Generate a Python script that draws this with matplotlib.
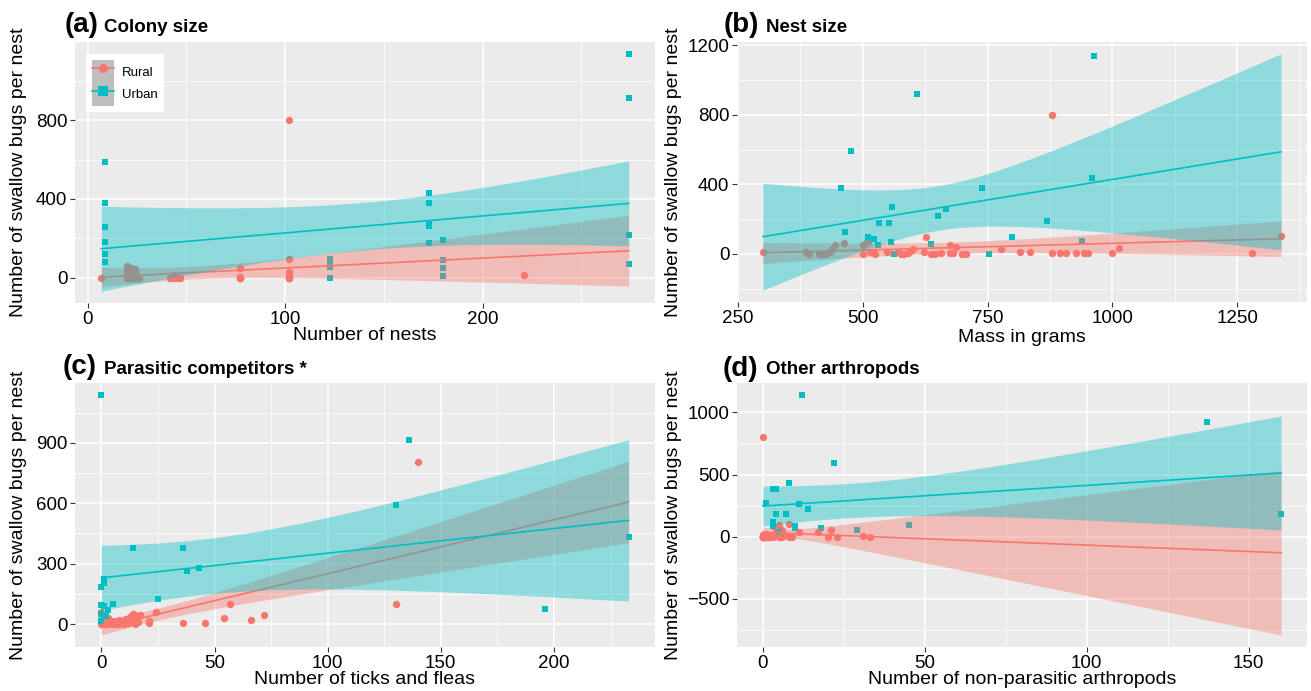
import numpy as np
import matplotlib
matplotlib.use("Agg")
import matplotlib.pyplot as plt
from matplotlib.ticker import MultipleLocator
from matplotlib.patches import Rectangle
from matplotlib.lines import Line2D
from matplotlib.legend_handler import HandlerTuple

plt.rcParams['font.family'] = ['Liberation Sans', 'DejaVu Sans']

RURAL_COLOR = '#F8766D'
URBAN_COLOR = '#00BFC4'
BG = '#EBEBEB'

# ---------------- data (overlapping points stacked) ----------------
# (a) Colony size
a_rural_x = [7, 20, 20, 20, 20, 22, 22, 22, 22, 24, 24, 24, 26, 42, 44, 44, 47,
             77, 77, 77, 102, 102, 102, 102, 102, 221,
             20, 20, 21, 21, 22, 22, 23, 23, 24, 26, 42, 44, 44, 46, 47,
             77, 77, 77, 77, 102, 102, 102, 102, 102]
a_rural_y = [0, 60, 35, 15, 0, 50, 25, 5, 0, 45, 30, 10, 0, 0, 0, 15, 0,
             50, 5, 0, 800, 96, 27, 10, 0, 15,
             0, 0, 0, 0, 0, 0, 0, 0, 0, 0, 0, 0, 0, 0, 0,
             0, 0, 0, 0, 0, 0, 0, 0, 0]
a_urban_x = [9, 9, 9, 9, 9, 9, 123, 123, 123, 123, 173, 173, 173, 173, 173,
             180, 180, 180, 180, 274, 274, 274, 274]
a_urban_y = [586, 378, 256, 180, 120, 82, 95, 75, 55, 0, 430, 378, 275, 260, 178,
             190, 92, 50, 8, 1137, 914, 219, 71]

# (b) Nest size
b_rural_x = [300, 387, 393, 412, 417, 424, 429, 435, 438, 445, 462, 501, 506, 510,
             500, 514, 520, 524, 548, 571, 576, 583, 590, 594, 601, 622, 626, 637,
             644, 657, 674, 674, 681, 686, 699, 707, 777, 815, 835, 879, 880, 895,
             907, 927, 944, 952, 999, 1013, 1280, 1338]
b_rural_y = [10, 13, 0, 0, 0, 0, 4, 13, 29, 51, 61, 48, 63, 70,
             0, 13, 9, 0, 13, 9, 0, 0, 6, 19, 29, 13, 99, 0,
             0, 6, 48, 6, 6, 38, 0, 0, 29, 9, 9, 4, 800, 4,
             6, 4, 6, 4, 4, 32, 4, 100]
b_urban_x = [964, 608, 477, 960, 457, 738, 559, 666, 650, 533, 552, 869, 465, 511,
             799, 522, 940, 557, 636, 531, 752, 563]
b_urban_y = [1140, 920, 590, 434, 380, 380, 270, 258, 220, 180, 180, 190, 124, 99,
             95, 86, 76, 67, 57, 50, 0, 0]

# (c) Parasitic competitors
c_rural_x = [0, 0, 0, 0, 1, 1, 2, 2, 3, 3, 4, 5, 5, 6, 7, 8, 8, 9, 10, 10,
             11, 12, 12, 13, 14, 15, 15, 16, 17, 21, 21, 24, 36, 46, 54, 57, 66, 72, 130, 140]
c_rural_y = [60, 0, 5, 20, 0, 10, 0, 25, 0, 30, 5, 0, 15, 0, 10, 0, 20, 5, 0, 15,
             25, 5, 30, 40, 50, 45, 0, 10, 45, 15, 5, 60, 5, 5, 30, 100, 20, 45, 100, 805]
c_urban_x = [0, 136, 130, 233, 196, 14, 36, 38, 43, 25, 1, 1, 0, 0, 1, 3, 5, 0, 0, 2]
c_urban_y = [1137, 915, 590, 433, 75, 380, 380, 264, 277, 125, 226, 206, 185, 95,
             90, 72, 100, 50, 15, 40]

# (d) Other arthropods
d_rural_x = [0, 0, 0, 1, 1, 2, 2, 3, 3, 4, 4, 5, 5, 6, 6, 7, 8, 9, 9, 5,
             8, 6, 4, 11, 17, 21, 20, 23, 31, 33,
             0, 0, 0, 0, 0, 0, 0, 0, 0, 0, 0, 1, 1, 1, 1, 2, 2, 2, 2]
d_rural_y = [805, 0, 10, 0, 20, 5, 0, 15, 0, 10, 30, 0, 20, 0, 5, 10, 0, 5, 0, 95,
             100, 50, 65, 40, 40, 50, 0, 0, 5, 0,
             0, 5, 0, 10, 0, 0, 5, 0, 0, 0, 0, 5, 0, 10, 0, 0, 5, 0, 10]
d_urban_x = [22, 8, 3, 4, 1, 11, 14, 4, 7, 3, 3, 10, 10, 18, 29, 45, 12, 137, 160, 5]
d_urban_y = [590, 435, 380, 380, 275, 260, 220, 180, 180, 120, 90, 90, 70, 70, 50,
             95, 1140, 920, 185, 40]

group_labels = ['Rural', 'Urban']
panel_tags = ['(a)', '(b)', '(c)', '(d)']
panel_names = ['Colony size', 'Nest size', 'Parasitic competitors *', 'Other arthropods']
x_labels = ['Number of nests', 'Mass in grams', 'Number of ticks and fleas',
            'Number of non-parasitic arthropods']
y_label = 'Number of swallow bugs per nest'

# ---------------- helpers ----------------
W, H = 1311, 691
fig = plt.figure(figsize=(W / 100, H / 100), dpi=100)


def px_axes(l, t, r, b):
    return fig.add_axes([l / W, 1 - b / H, (r - l) / W, (b - t) / H])


def tcrit(df):
    z = 1.959964
    g1 = (z ** 3 + z) / 4
    g2 = (5 * z ** 5 + 16 * z ** 3 + 3 * z) / 96
    g3 = (3 * z ** 7 + 19 * z ** 5 + 17 * z ** 3 - 15 * z) / 384
    return z + g1 / df + g2 / df ** 2 + g3 / df ** 3


def lm_band(x, y, grid):
    x = np.asarray(x, float)
    y = np.asarray(y, float)
    n = len(x)
    xb, yb = x.mean(), y.mean()
    sxx = ((x - xb) ** 2).sum()
    slope = ((x - xb) * (y - yb)).sum() / sxx
    icpt = yb - slope * xb
    resid = y - (icpt + slope * x)
    s = np.sqrt((resid ** 2).sum() / (n - 2))
    fit = icpt + slope * grid
    se = s * np.sqrt(1 / n + (grid - xb) ** 2 / sxx)
    t = tcrit(n - 2)
    return fit, fit - t * se, fit + t * se


def panel(ax, rx, ry, ux, uy, xstep, ystep):
    ax.set_facecolor(BG)
    ax.set_axisbelow(True)
    for s in ax.spines.values():
        s.set_visible(False)
    ax.scatter(rx, ry, s=28, marker='o', color=RURAL_COLOR, lw=0, zorder=2)
    ax.scatter(ux, uy, s=24, marker='s', color=URBAN_COLOR, lw=0, zorder=2)
    allx = np.concatenate([np.asarray(rx, float), np.asarray(ux, float)])
    grid = np.linspace(allx.min(), allx.max(), 80)
    ys = [np.asarray(ry, float), np.asarray(uy, float)]
    z = 3
    for x, y, c in [(rx, ry, RURAL_COLOR), (ux, uy, URBAN_COLOR)]:
        fit, lo, hi = lm_band(x, y, grid)
        ax.fill_between(grid, lo, hi, color=c, alpha=0.4, lw=0, zorder=z)
        ax.plot(grid, fit, color=c, lw=1.2, zorder=z + 0.5)
        z += 1
        ys += [lo, hi]
    ally = np.concatenate(ys)
    xr = allx.max() - allx.min()
    yr = ally.max() - ally.min()
    ax.set_xlim(allx.min() - 0.05 * xr, allx.max() + 0.05 * xr)
    ax.set_ylim(ally.min() - 0.05 * yr, ally.max() + 0.05 * yr)
    ax.xaxis.set_major_locator(MultipleLocator(xstep))
    ax.xaxis.set_minor_locator(MultipleLocator(xstep / 2))
    ax.yaxis.set_major_locator(MultipleLocator(ystep))
    ax.yaxis.set_minor_locator(MultipleLocator(ystep / 2))
    ax.grid(which='major', color='white', lw=1.1)
    ax.grid(which='minor', color='white', lw=0.55)
    ax.tick_params(which='major', length=3.5, width=0.8, color='#333333',
                   labelsize=13.5, labelcolor='black', pad=2)
    ax.tick_params(which='minor', length=0)


boxes = [(75, 42, 655, 303), (737, 42, 1307, 302), (75, 383, 655, 647), (737, 383, 1307, 647)]
data = [(a_rural_x, a_rural_y, a_urban_x, a_urban_y, 100, 400),
        (b_rural_x, b_rural_y, b_urban_x, b_urban_y, 250, 400),
        (c_rural_x, c_rural_y, c_urban_x, c_urban_y, 50, 300),
        (d_rural_x, d_rural_y, d_urban_x, d_urban_y, 50, 500)]
tag_pos = [(65, 25), (724, 25), (63, 367), (723, 369)]
name_pos = [(104, 27), (766, 27), (104, 369), (766, 370)]
ylab_x = [19, 674, 19, 674]
xlab_y = [336, 337, 679, 679]

axes = []
for i in range(4):
    l, t, r, b = boxes[i]
    ax = px_axes(l, t, r, b)
    rx, ry, ux, uy, xs, ys_ = data[i]
    panel(ax, rx, ry, ux, uy, xs, ys_)
    axes.append(ax)
    fig.text(tag_pos[i][0] / W, 1 - tag_pos[i][1] / H, panel_tags[i], fontsize=20,
             fontweight='bold', ha='left', va='center')
    fig.text(name_pos[i][0] / W, 1 - name_pos[i][1] / H, panel_names[i], fontsize=13.5,
             fontweight='bold', ha='left', va='center')
    fig.text(ylab_x[i] / W, 1 - ((t + b) / 2) / H, y_label, rotation=90, fontsize=14,
             ha='center', va='center')
    fig.text(((l + r) / 2) / W, 1 - xlab_y[i] / H, x_labels[i], fontsize=14,
             ha='center', va='center')

# legend in panel (a)
handles = []
for c, m in [(RURAL_COLOR, 'o'), (URBAN_COLOR, 's')]:
    rect = Rectangle((0, 0), 1, 1, facecolor='#BEBEBE', edgecolor='none')
    ln = Line2D([], [], color=c, lw=1.2, marker=m, markersize=6.5, markeredgewidth=0)
    handles.append((rect, ln))
leg = axes[0].legend(handles, group_labels, handler_map={tuple: HandlerTuple(ndivide=1)},
                     loc='upper left', bbox_to_anchor=(86 / W, 1 - 54 / H),
                     bbox_transform=fig.transFigure, fontsize=9.5, frameon=True,
                     fancybox=False, edgecolor='none', facecolor='white', framealpha=1,
                     handlelength=1.7, handleheight=2.3, labelspacing=0.0,
                     handletextpad=0.6, borderpad=0.45, borderaxespad=0)
leg.set_zorder(10)

fig.savefig('out.png', dpi=100, facecolor='white')
